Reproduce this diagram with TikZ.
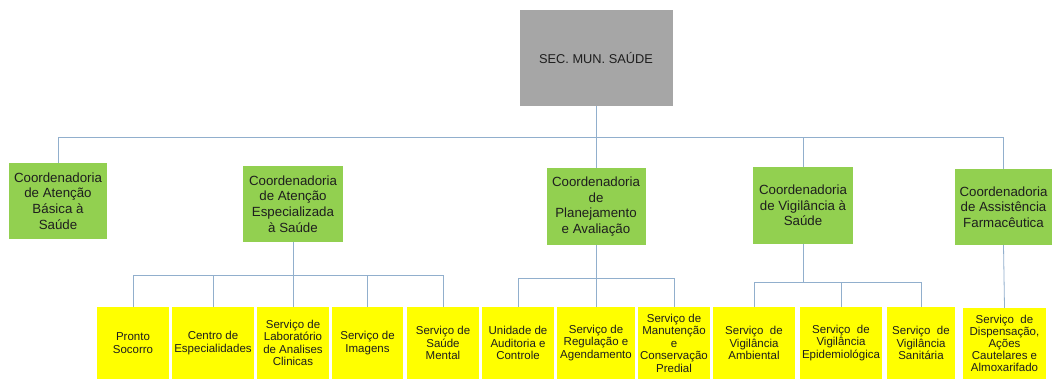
\documentclass[tikz,border=0pt]{standalone}
\usepackage{fontspec}
\setmainfont{Liberation Sans}
\definecolor{gbox}{RGB}{146,208,80}
\definecolor{ybox}{RGB}{255,255,0}
\definecolor{tbox}{RGB}{166,166,166}
\definecolor{lnk}{RGB}{145,175,205}
\definecolor{txt}{RGB}{30,30,30}
\tikzset{
  topbox/.style={fill=tbox, draw=none, inner sep=0pt, text=txt, font=\fontsize{12.8}{15}\selectfont},
  greenbox/.style={fill=gbox, draw=none, inner sep=0pt, align=center, text=txt, font=\fontsize{13.3}{15.7}\selectfont},
  yellowbox/.style={fill=ybox, draw=none, inner sep=0pt, align=center, text=txt, minimum height=72pt, font=\fontsize{11.5}{12.5}\selectfont},
  link/.style={draw=lnk, line width=0.8pt}
}
\begin{document}
\begin{tikzpicture}[x=1pt,y=-1pt]
\useasboundingbox (0,0) rectangle (1052,379);
\fill[white] (0,0) rectangle (1052,379);
% top
\node[topbox, minimum width=153pt, minimum height=96pt] (top) at (596,58) {SEC. MUN. SAÚDE};
% coordinators
\node[greenbox, minimum width=98pt, minimum height=76pt] (g1) at (58,201) {Coordenadoria\\de Atenção\\Básica à\\Saúde};
\node[greenbox, minimum width=100pt, minimum height=76pt] (g2) at (293,204) {Coordenadoria\\de Atenção\\Especializada\\à Saúde};
\node[greenbox, minimum width=99pt, minimum height=77pt] (g3) at (596,206.5) {Coordenadoria\\de\\Planejamento\\e Avaliação};
\node[greenbox, minimum width=100pt, minimum height=77pt] (g4) at (803,205.5) {Coordenadoria\\de Vigilância à\\Saúde};
\node[greenbox, minimum width=97pt, minimum height=76pt] (g5) at (1003.5,207) {Coordenadoria\\de Assistência\\Farmacêutica};
% services
\node[yellowbox, minimum width=72pt] (y1) at (133,343) {Pronto\\Socorro};
\node[yellowbox, minimum width=82pt] (y2) at (213,343) {Centro de\\Especialidades};
\node[yellowbox, minimum width=72pt] (y3) at (293,343) {Serviço de\\Laboratório\\de Analises\\Clinicas};
\node[yellowbox, minimum width=71pt] (y4) at (367.5,343) {Serviço de\\Imagens};
\node[yellowbox, minimum width=72pt] (y5) at (443,343) {Serviço de\\Saúde\\Mental};
\node[yellowbox, minimum width=72pt] (y6) at (518,343) {Unidade de\\Auditoria e\\Controle};
\node[yellowbox, minimum width=78pt] (y7) at (596,343) {Serviço de\\Regulação e\\Agendamento};
\node[yellowbox, minimum width=72pt] (y8) at (674,343) {Serviço de\\Manutenção\\e\\Conservação\\Predial};
\node[yellowbox, minimum width=82pt] (y9) at (754,343) {Serviço~ de\\Vigilância\\Ambiental};
\node[yellowbox, minimum width=82pt] (y10) at (841,343) {Serviço~ de\\Vigilância\\Epidemiológica};
\node[yellowbox, minimum width=68pt] (y11) at (921,343) {Serviço~ de\\Vigilância\\Sanitária};
\node[yellowbox, minimum width=83pt, minimum height=71pt, font=\fontsize{11.5}{12}\selectfont] (y12) at (1004.5,343.5) {Serviço~ de\\Dispensação,\\Ações\\Cautelares e\\Almoxarifado};
% bar coordinates
\coordinate (b0) at (0,137);
\coordinate (b2) at (0,275);
\coordinate (b3) at (0,278);
\coordinate (b4) at (0,282);
% top level connectors
\draw[link] (top.south) -- (g3.north);
\draw[link] (g1.north) -- (g1.north |- b0) -| (g5.north);
\draw[link] (g4.north) -- (g4.north |- b0);
% G2 subtree
\draw[link] (g2.south) -- (y3.north);
\draw[link] (y1.north) -- (y1.north |- b2) -| (y5.north);
\draw[link] (y2.north) -- (y2.north |- b2);
\draw[link] (y4.north) -- (y4.north |- b2);
% G3 subtree
\draw[link] (g3.south) -- (y7.north);
\draw[link] (y6.north) -- (y6.north |- b3) -| (y8.north);
% G4 subtree
\draw[link] (g4.south) -- (g4.south |- b4);
\draw[link] (y9.north) -- (y9.north |- b4) -| (y11.north);
\draw[link] (y10.north) -- (y10.north |- b4);
% G5
\draw[link] (g5.south) -- (y12.north);
\end{tikzpicture}
\end{document}
